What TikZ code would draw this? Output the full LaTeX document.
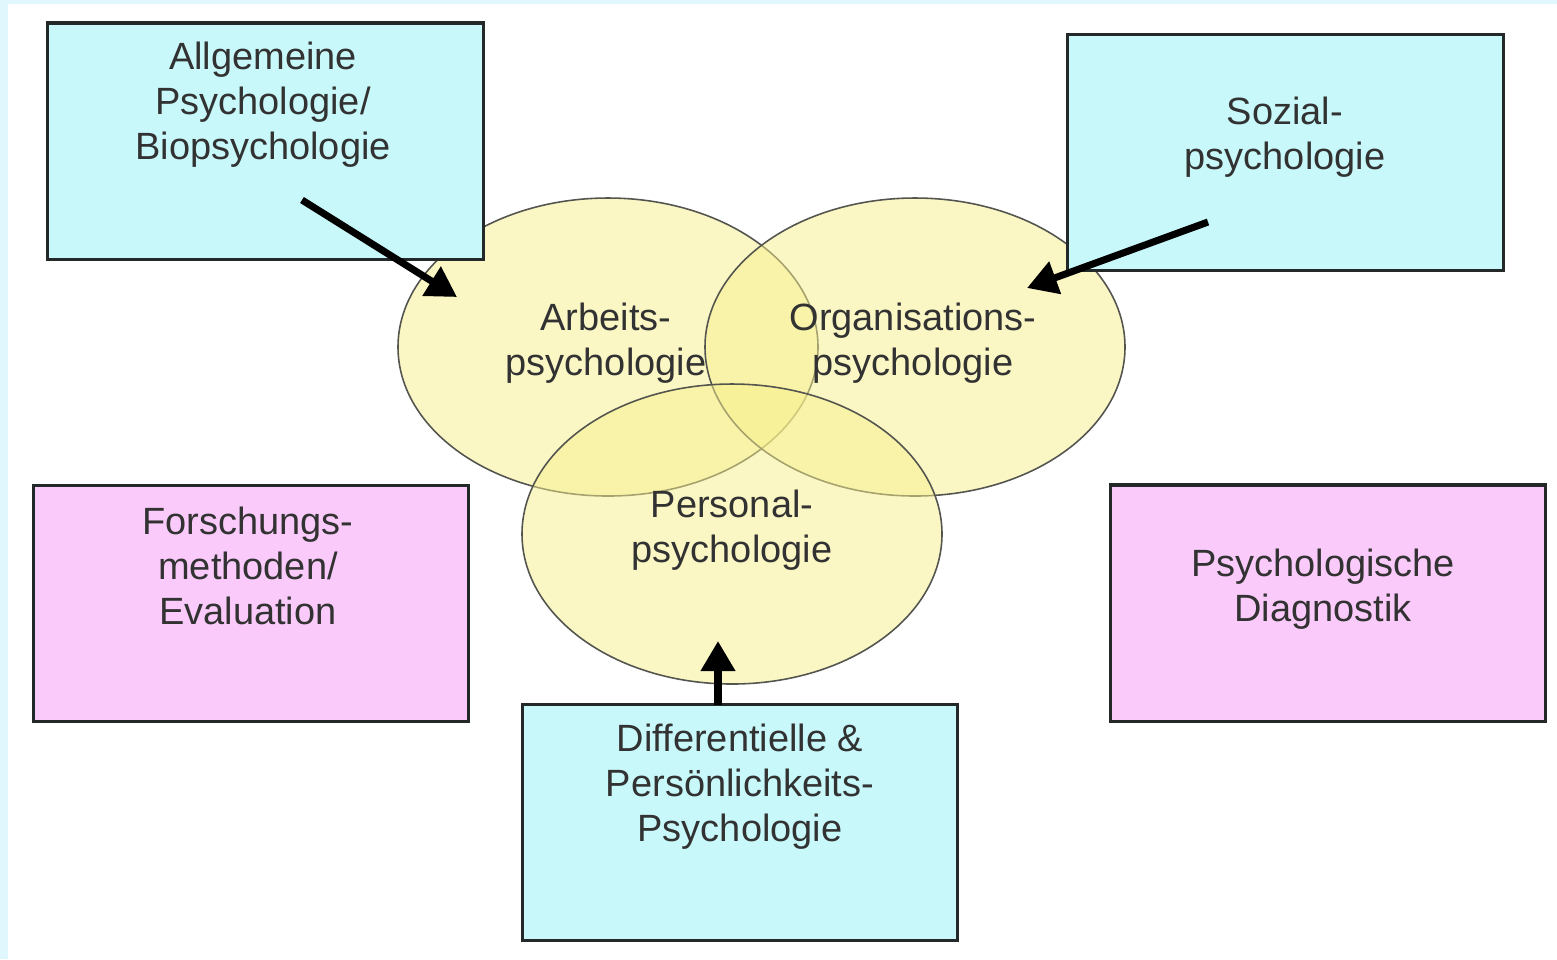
\documentclass[tikz,border=0pt]{standalone}
\usepackage{fontspec}
\setmainfont{Liberation Sans}
\usetikzlibrary{arrows.meta}
\definecolor{framebg}{RGB}{224,247,254}
\definecolor{cyanbox}{RGB}{200,248,250}
\definecolor{pinkbox}{RGB}{250,203,250}
\definecolor{ellfill}{RGB}{247,240,140}
\definecolor{ellline}{RGB}{85,85,80}
\definecolor{boxline}{RGB}{35,40,40}
\definecolor{txt}{RGB}{50,50,50}
\tikzset{
  box/.style={draw=boxline, line width=0.9pt, minimum width=4.35cm, minimum height=2.36cm, anchor=center, inner sep=0pt},
  cbox/.style={box, fill=cyanbox},
  pbox/.style={box, fill=pinkbox},
  ell/.style={draw=ellline, line width=0.45pt, fill=ellfill, fill opacity=0.5},
  lbl/.style={text=txt, font=\fontsize{10.8}{12.8}\selectfont, align=center, inner sep=0pt},
  arr/.style={line width=2pt, draw=black, -{Triangle[length=0.3cm,width=0.33cm]}},
}
\begin{document}
\begin{tikzpicture}[x=0.01cm,y=-0.01cm]
\useasboundingbox (0,0) rectangle (1557,959);
\fill[white] (0,0) rectangle (1557,959);
\fill[framebg] (0,0) rectangle (1557,4);
\fill[framebg] (0,0) rectangle (8,959);
% ellipses
\path[ell] (608,347) ellipse [x radius=210, y radius=149];
\path[ell] (915,347) ellipse [x radius=210, y radius=149];
\path[ell] (732,534) ellipse [x radius=210, y radius=150];
\coordinate (ea) at (608,347);
\coordinate (eo) at (915,347);
\coordinate (ep) at (732,534);
% boxes
\node[cbox] (allg) at (265.5,141) {};
\node[cbox] (soz) at (1285.5,152.5) {};
\node[pbox] (forsch) at (251,603.5) {};
\node[pbox] (diag) at (1328,603) {};
\node[cbox] (diff) at (740,822.5) {};
% labels
\node[lbl] (tallg) at (263,105) {Allgemeine\\Psychologie/\\Biopsychologie};
\node[lbl] (tsoz) at (1285,137) {Sozial-\\psychologie};
\node[lbl] (tforsch) at (248,566) {Forschungs-\\methoden/\\Evaluation};
\node[lbl] (tdiag) at (1323,589) {Psychologische\\Diagnostik};
\node[lbl] (tdiff) at (740,787) {Differentielle \&\\Persönlichkeits-\\Psychologie};
\node[lbl] (ta) at (606,343) {Arbeits-\\psychologie};
\node[lbl] (to) at (913,343) {Organisations-\\psychologie};
\node[lbl] (tp) at (732,530) {Personal-\\psychologie};
% arrows
\coordinate (a1s) at (302,200);
\coordinate (a1e) at (457,297);
\coordinate (a2s) at (1208,222);
\coordinate (a2e) at (1027,288);
\coordinate (a3s) at (718,705);
\coordinate (a3e) at (718,641);
\draw[arr] (a1s) -- (a1e);
\draw[arr] (a2s) -- (a2e);
\draw[arr] (a3s) -- (a3e);
\end{tikzpicture}
\end{document}
